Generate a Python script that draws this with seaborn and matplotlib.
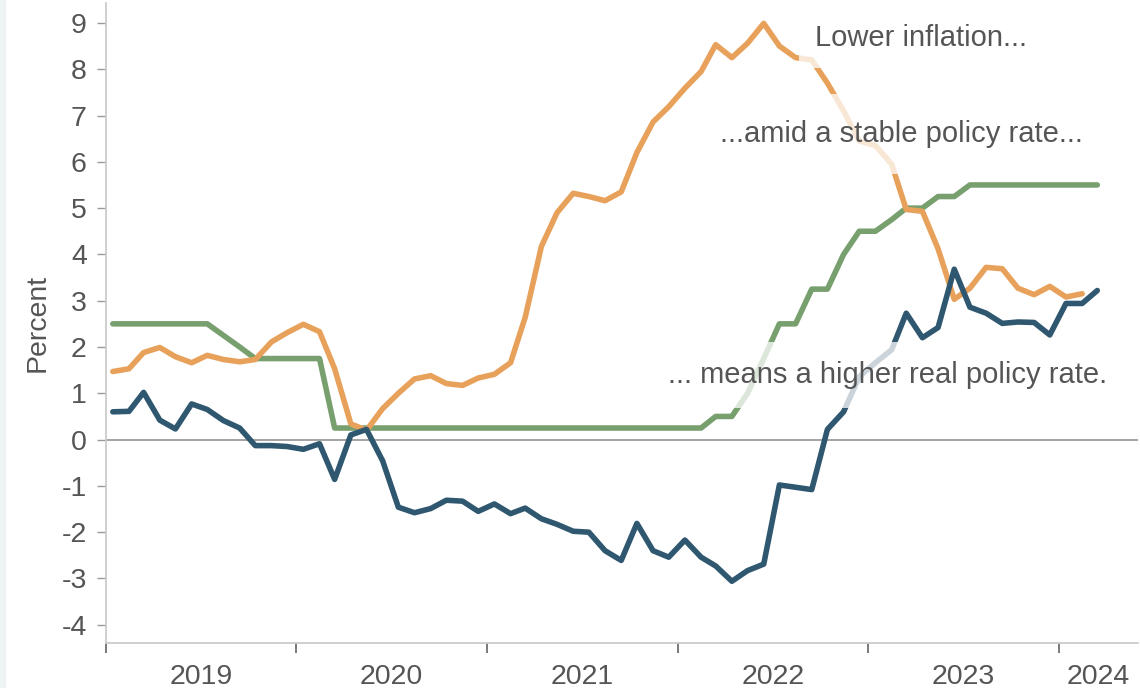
import numpy as np
import pandas as pd
import seaborn as sns
import matplotlib.pyplot as plt
from matplotlib.patches import Rectangle

# monthly data, Jan 2019 onwards (percent)
inflation = [1.47, 1.53, 1.88, 1.99, 1.79, 1.66, 1.82, 1.73, 1.68, 1.73, 2.11, 2.31,
             2.49, 2.33, 1.53, 0.34, 0.20, 0.67, 1.00, 1.31, 1.38, 1.21, 1.17, 1.33,
             1.41, 1.66, 2.64, 4.17, 4.90, 5.32, 5.25, 5.16, 5.35, 6.20, 6.86, 7.19,
             7.59, 7.95, 8.53, 8.25, 8.56, 8.99, 8.50, 8.25, 8.20, 7.70, 7.10, 6.45,
             6.35, 5.95, 4.97, 4.93, 4.12, 3.03, 3.27, 3.72, 3.69, 3.27, 3.13, 3.31,
             3.08, 3.15]
policy_rate = [2.5, 2.5, 2.5, 2.5, 2.5, 2.5, 2.5, 2.25, 2.0, 1.75, 1.75, 1.75,
               1.75, 1.75, 0.25, 0.25, 0.25, 0.25, 0.25, 0.25, 0.25, 0.25, 0.25, 0.25,
               0.25, 0.25, 0.25, 0.25, 0.25, 0.25, 0.25, 0.25, 0.25, 0.25, 0.25, 0.25,
               0.25, 0.25, 0.5, 0.5, 1.0, 1.75, 2.5, 2.5, 3.25, 3.25, 4.0, 4.5,
               4.5, 4.75, 5.0, 5.0, 5.25, 5.25, 5.5, 5.5, 5.5, 5.5, 5.5, 5.5,
               5.5, 5.5, 5.5]
real_rate = [0.60, 0.61, 1.02, 0.42, 0.23, 0.77, 0.65, 0.41, 0.25, -0.13, -0.13, -0.15,
             -0.21, -0.09, -0.86, 0.10, 0.22, -0.46, -1.46, -1.58, -1.49, -1.31, -1.33, -1.55,
             -1.39, -1.60, -1.48, -1.71, -1.83, -1.98, -2.00, -2.40, -2.61, -1.81, -2.40, -2.54,
             -2.17, -2.54, -2.73, -3.06, -2.83, -2.69, -0.98, -1.03, -1.08, 0.22, 0.60, 1.36,
             1.66, 1.94, 2.73, 2.20, 2.42, 3.68, 2.86, 2.73, 2.51, 2.54, 2.53, 2.26,
             2.94, 2.94, 3.22]
year_labels = ['2019', '2020', '2021', '2022', '2023', '2024']

months = pd.date_range('2019-01-01', periods=len(policy_rate), freq='MS') + pd.Timedelta(days=14)

ORANGE = '#E8A15B'
GREEN = '#789F6E'
BLUE = '#2F5870'
TXT = '#555555'
FS = 20.5
LW = 4.0

sns.set_style('white')
plt.rcParams['font.family'] = ['Liberation Sans', 'DejaVu Sans']
plt.rcParams['axes.unicode_minus'] = False

fig = plt.figure(figsize=(11.4, 6.88), dpi=100)
fig.patches.append(Rectangle((0, 0), 5 / 1140, 1, transform=fig.transFigure,
                             color='#EEF3F3', zorder=0))
ax = fig.add_axes([105.5 / 1140, 44.7 / 688, 1032.5 / 1140, 640.3 / 688])

ax.axhline(0, color='#8a8a8a', lw=1.1, zorder=1)
sns.lineplot(x=months, y=policy_rate, color=GREEN, lw=LW, ax=ax, zorder=2)
sns.lineplot(x=months[:len(inflation)], y=inflation, color=ORANGE, lw=LW, ax=ax, zorder=3)
sns.lineplot(x=months, y=real_rate, color=BLUE, lw=LW, ax=ax, zorder=4)

x_start, x_end = pd.Timestamp('2019-01-01'), pd.Timestamp('2024-06-01')
ax.set_xlim(x_start, x_end)
ax.set_ylim(-4.4, 9.43)
ax.set_yticks(range(-4, 10))

# year boundaries as ticks, labels centred in each year span
bounds = [pd.Timestamp(f'{y}-01-01') for y in year_labels] + [x_end]
mids = [a + (b - a) / 2 for a, b in zip(bounds[:-1], bounds[1:])]
ax.set_xticks(bounds[:-1])
ax.set_xticklabels([])
ax.set_xticks(mids, minor=True)
ax.set_xticklabels(year_labels, minor=True)

ax.tick_params(axis='x', which='major', direction='out', length=7, width=1.1,
               color='#555555', bottom=True)
ax.tick_params(axis='x', which='minor', length=0, pad=15, labelsize=FS, labelcolor=TXT)
ax.tick_params(axis='y', direction='out', length=6.5, width=1, color='#999999',
               left=True, pad=7, labelsize=FS, labelcolor=TXT)

ax.set_ylabel('Percent', fontsize=FS, color=TXT, labelpad=8)
ax.set_xlabel('')

for side in ['top', 'right']:
    ax.spines[side].set_visible(False)
for side in ['left', 'bottom']:
    ax.spines[side].set_color('#cccccc')
    ax.spines[side].set_linewidth(1.3)

notes = [
    ('Lower inflation...', 0.687, 0.933, 0.55),
    ('...amid a stable policy rate...', 0.5952, 0.7829, 0.9),
    ('... means a higher real policy rate.', 0.5448, 0.4065, 0.66),
]
for label, nx, ny, pad in notes:
    ax.text(nx, ny, label, transform=ax.transAxes, ha='left', va='baseline',
            fontsize=21, color=TXT, zorder=6,
            bbox=dict(boxstyle=f'square,pad={pad}', fc='white', ec='none', alpha=0.75))

fig.savefig('out.png', dpi=100)
